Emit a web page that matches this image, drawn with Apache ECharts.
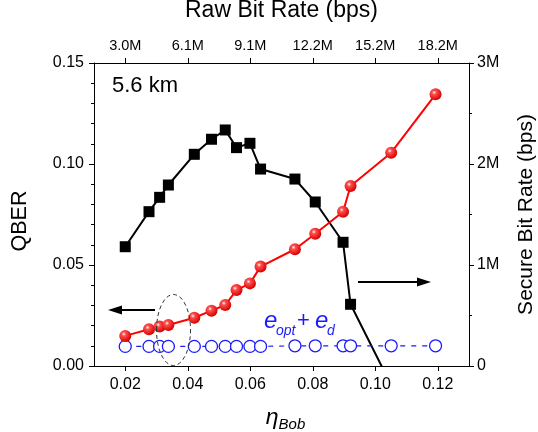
<!DOCTYPE html>
<html><head><meta charset="utf-8">
<script src="https://cdn.jsdelivr.net/npm/echarts@6/dist/echarts.min.js"></script>
<style>html,body{margin:0;padding:0;background:#fff}#c{width:538px;height:432px}</style>
</head><body><div id="c"></div>
<script>
var eta = [0.0200,0.0276,0.0310,0.0338,0.0421,0.0476,0.0520,0.0556,0.0599,0.0633,0.0743,0.0808,0.0897,0.0921,0.1051,0.1193];
var qber = [0.0149,0.0182,0.0195,0.0203,0.0239,0.0274,0.0302,0.0376,0.0409,0.0492,0.0578,0.0655,0.0764,0.0891,0.1056,0.1345];
var eoptd = [0.0097,0.0097,0.0097,0.0097,0.0097,0.0097,0.0097,0.0097,0.0097,0.0097,0.0100,0.0100,0.0100,0.0100,0.0100,0.0100];
var etaSbr = [0.0200,0.0276,0.0310,0.0338,0.0421,0.0476,0.0520,0.0556,0.0599,0.0633,0.0743,0.0808,0.0897,0.0921,0.1051];
var sbr = [1181000,1528000,1670000,1792000,2096000,2245000,2337000,2162000,2205000,1950000,1851000,1624000,1225000,611000,-190000];
var etaTicks = [0.02,0.04,0.06,0.08,0.10,0.12];
var rawTicks = ['3.0M','6.1M','9.1M','12.2M','15.2M','18.2M'];
var sbrTicks = ['0','1M','2M','3M'];

function zip(a,b){return a.map(function(v,i){return [v,b[i]];});}
var FONT = 'Liberation Sans, Arial, sans-serif';
var BLUE = '#1a1aff';
var axisCommon = {
  axisLine:{show:true,onZero:false,lineStyle:{color:'#000',width:1}},
  axisTick:{show:true,inside:false,length:5,lineStyle:{color:'#000'}},
  splitLine:{show:false},
  axisLabel:{color:'#000',fontSize:16,fontFamily:FONT}
};
function blueText(x,y,t,size,italic){
  return {type:'text',x:x,y:y,z:100,style:{text:t,fontSize:size,fontStyle:italic?'italic':'normal',fontFamily:FONT,fill:BLUE,verticalAlign:'top',align:'left'}};
}
var chart = echarts.init(document.getElementById('c'));
chart.setOption({
  animation:false,
  grid:{left:94,right:69,top:63,bottom:66,containLabel:false,outerBoundsMode:'none'},
  xAxis:[
    Object.assign({}, axisCommon, {
      type:'value',position:'bottom',min:0.01,max:0.13,
      axisTick:{show:true,inside:false,length:5,lineStyle:{color:'#000'},customValues:etaTicks},
      axisLabel:Object.assign({},axisCommon.axisLabel,{margin:11,customValues:etaTicks,formatter:function(v){return v.toFixed(2);}}),
      name:'{eta|η}{sub|Bob}',nameLocation:'middle',nameGap:37,
      nameTextStyle:{padding:[0,0,0,8],rich:{eta:{fontSize:23,fontStyle:'italic',fontFamily:FONT,color:'#000'},sub:{fontSize:15,fontStyle:'italic',fontFamily:FONT,color:'#000',verticalAlign:'bottom',padding:[14,0,0,0]}}}
    }),
    Object.assign({}, axisCommon, {
      type:'value',position:'top',min:0.01,max:0.13,
      axisTick:{show:true,inside:false,length:5,lineStyle:{color:'#000'},customValues:etaTicks},
      axisLabel:Object.assign({},axisCommon.axisLabel,{fontSize:14.5,margin:10,customValues:etaTicks,formatter:function(v){var i=Math.round((v-0.02)/0.02);return rawTicks[i]||'';}}),
      name:'Raw Bit Rate (bps)',nameLocation:'middle',nameGap:41,
      nameTextStyle:{fontSize:23,fontFamily:FONT,color:'#000'}
    })
  ],
  yAxis:[
    Object.assign({}, axisCommon, {
      type:'value',position:'left',min:0,max:0.15,interval:0.05,
      minorTick:{show:true,splitNumber:5,length:3,lineStyle:{color:'#000'}},
      axisLabel:Object.assign({},axisCommon.axisLabel,{margin:10,formatter:function(v){return v.toFixed(2);}}),
      name:'QBER',nameLocation:'middle',nameGap:63,nameRotate:90,
      nameTextStyle:{fontSize:21.5,fontFamily:FONT,color:'#000',padding:[0,13,0,0]}
    }),
    Object.assign({}, axisCommon, {
      type:'value',position:'right',min:0,max:3000000,interval:1000000,
      minorTick:{show:true,splitNumber:2,length:3,lineStyle:{color:'#000'}},
      axisLabel:Object.assign({},axisCommon.axisLabel,{margin:8,formatter:function(v){return sbrTicks[Math.round(v/1000000)];}}),
      name:'Secure Bit Rate (bps)',nameLocation:'middle',nameGap:47,nameRotate:90,
      nameTextStyle:{fontSize:21,fontFamily:FONT,color:'#000'}
    })
  ],
  series:[
    {type:'line',name:'SBR',xAxisIndex:0,yAxisIndex:1,data:zip(etaSbr,sbr),clip:true,
     symbol:'rect',symbolSize:11,lineStyle:{color:'#000',width:2},itemStyle:{color:'#000'},z:3},
    {type:'line',name:'eopt',xAxisIndex:0,yAxisIndex:0,data:zip(eta,eoptd),
     symbol:'circle',symbolSize:12,lineStyle:{color:BLUE,width:1.2,type:[5,6]},
     itemStyle:{color:'#fff',borderColor:BLUE,borderWidth:1.3},z:4},
    {type:'line',name:'QBER',xAxisIndex:0,yAxisIndex:0,data:zip(eta,qber),
     symbol:'circle',symbolSize:12,lineStyle:{color:'#ff0000',width:2},
     itemStyle:{color:{type:'radial',x:0.38,y:0.35,r:0.65,colorStops:[{offset:0,color:'#ffffff'},{offset:0.25,color:'#ff5050'},{offset:1,color:'#d80000'}]}},z:5}
  ],
  graphic:[
    {type:'text',left:112,top:75,style:{text:'5.6 km',fontSize:22,fontFamily:FONT,fill:'#000'}},
    blueText(264,309,'e',24,true),
    blueText(276,324,'opt',14,true),
    blueText(297,310,'+',22,false),
    blueText(315,309,'e',24,true),
    blueText(327,324,'d',14,true),
    {type:'line',shape:{x1:155,y1:310,x2:118,y2:310},style:{stroke:'#000',lineWidth:2}},
    {type:'polygon',shape:{points:[[108,310],[122,305.5],[122,314.5]]},style:{fill:'#000'}},
    {type:'line',shape:{x1:358,y1:282,x2:420,y2:282},style:{stroke:'#000',lineWidth:2}},
    {type:'polygon',shape:{points:[[431,282],[417,277.5],[417,286.5]]},style:{fill:'#000'}},
    {type:'ellipse',shape:{cx:173.5,cy:330,rx:17,ry:35.5},style:{fill:'none',stroke:'#333',lineWidth:1,lineDash:[4,3]},z:10}
  ]
});
</script></body></html>
